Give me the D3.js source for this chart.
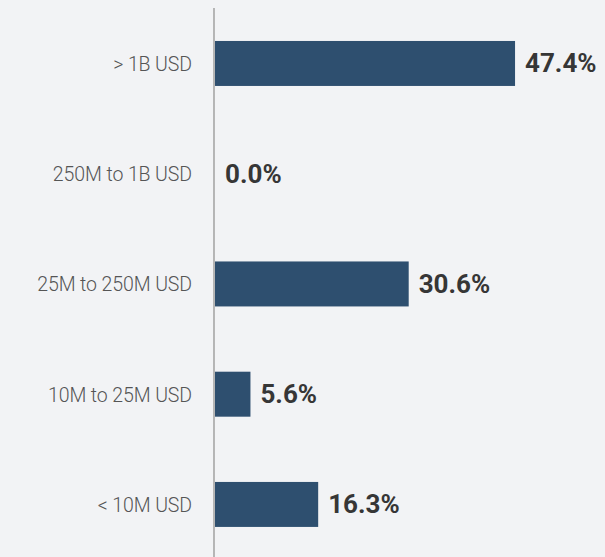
<!DOCTYPE html>
<html><head><meta charset="utf-8">
<script src="https://cdn.jsdelivr.net/npm/d3@7"></script>
<style>html,body{margin:0;padding:0;background:#f2f3f5;}svg{display:block;}</style>
</head><body>
<script>
const categories = ["> 1B USD", "250M to 1B USD", "25M to 250M USD", "10M to 25M USD", "< 10M USD"];
const values = [47.4, 0.0, 30.6, 5.6, 16.3];
const valueLabels = ["47.4%", "0.0%", "30.6%", "5.6%", "16.3%"];

const W = 605, H = 557;
const svg = d3.select("body").append("svg").attr("width", W).attr("height", H);
svg.append("rect").attr("width", W).attr("height", H).attr("fill", "#f2f3f5");

const x = d3.scaleLinear().domain([0, 50]).range([215, 531.5]);
const y = d3.scaleBand().domain(categories).range([7.9, 560]).paddingInner(0.592).paddingOuter(0.3);

svg.selectAll("rect.bar").data(values).enter().append("rect")
  .attr("class", "bar")
  .attr("x", x(0))
  .attr("y", (d, i) => y(categories[i]))
  .attr("width", d => x(d) - x(0))
  .attr("height", y.bandwidth())
  .attr("fill", "#2e4f6f");

svg.selectAll("text.cat").data(categories).enter().append("text")
  .attr("class", "cat")
  .attr("x", 192)
  .attr("y", d => y(d) + y.bandwidth() / 2 + 7.5)
  .attr("text-anchor", "end")
  .attr("font-family", "Roboto")
  .attr("font-weight", 300)
  .attr("font-size", 19.5)
  .attr("letter-spacing", -0.1)
  .attr("fill", "#555")
  .text(d => d);

svg.selectAll("text.val").data(values).enter().append("text")
  .attr("class", "val")
  .attr("x", d => x(d) + 10)
  .attr("y", (d, i) => y(categories[i]) + y.bandwidth() / 2 + 9)
  .attr("font-family", "Roboto")
  .attr("font-weight", 700)
  .attr("font-size", 26)
  .attr("fill", "#363636")
  .text((d, i) => valueLabels[i]);

svg.append("line")
  .attr("x1", 214).attr("x2", 214)
  .attr("y1", 8).attr("y2", H)
  .attr("stroke", "#a6a6a6").attr("stroke-width", 1.6);
</script>
</body></html>
